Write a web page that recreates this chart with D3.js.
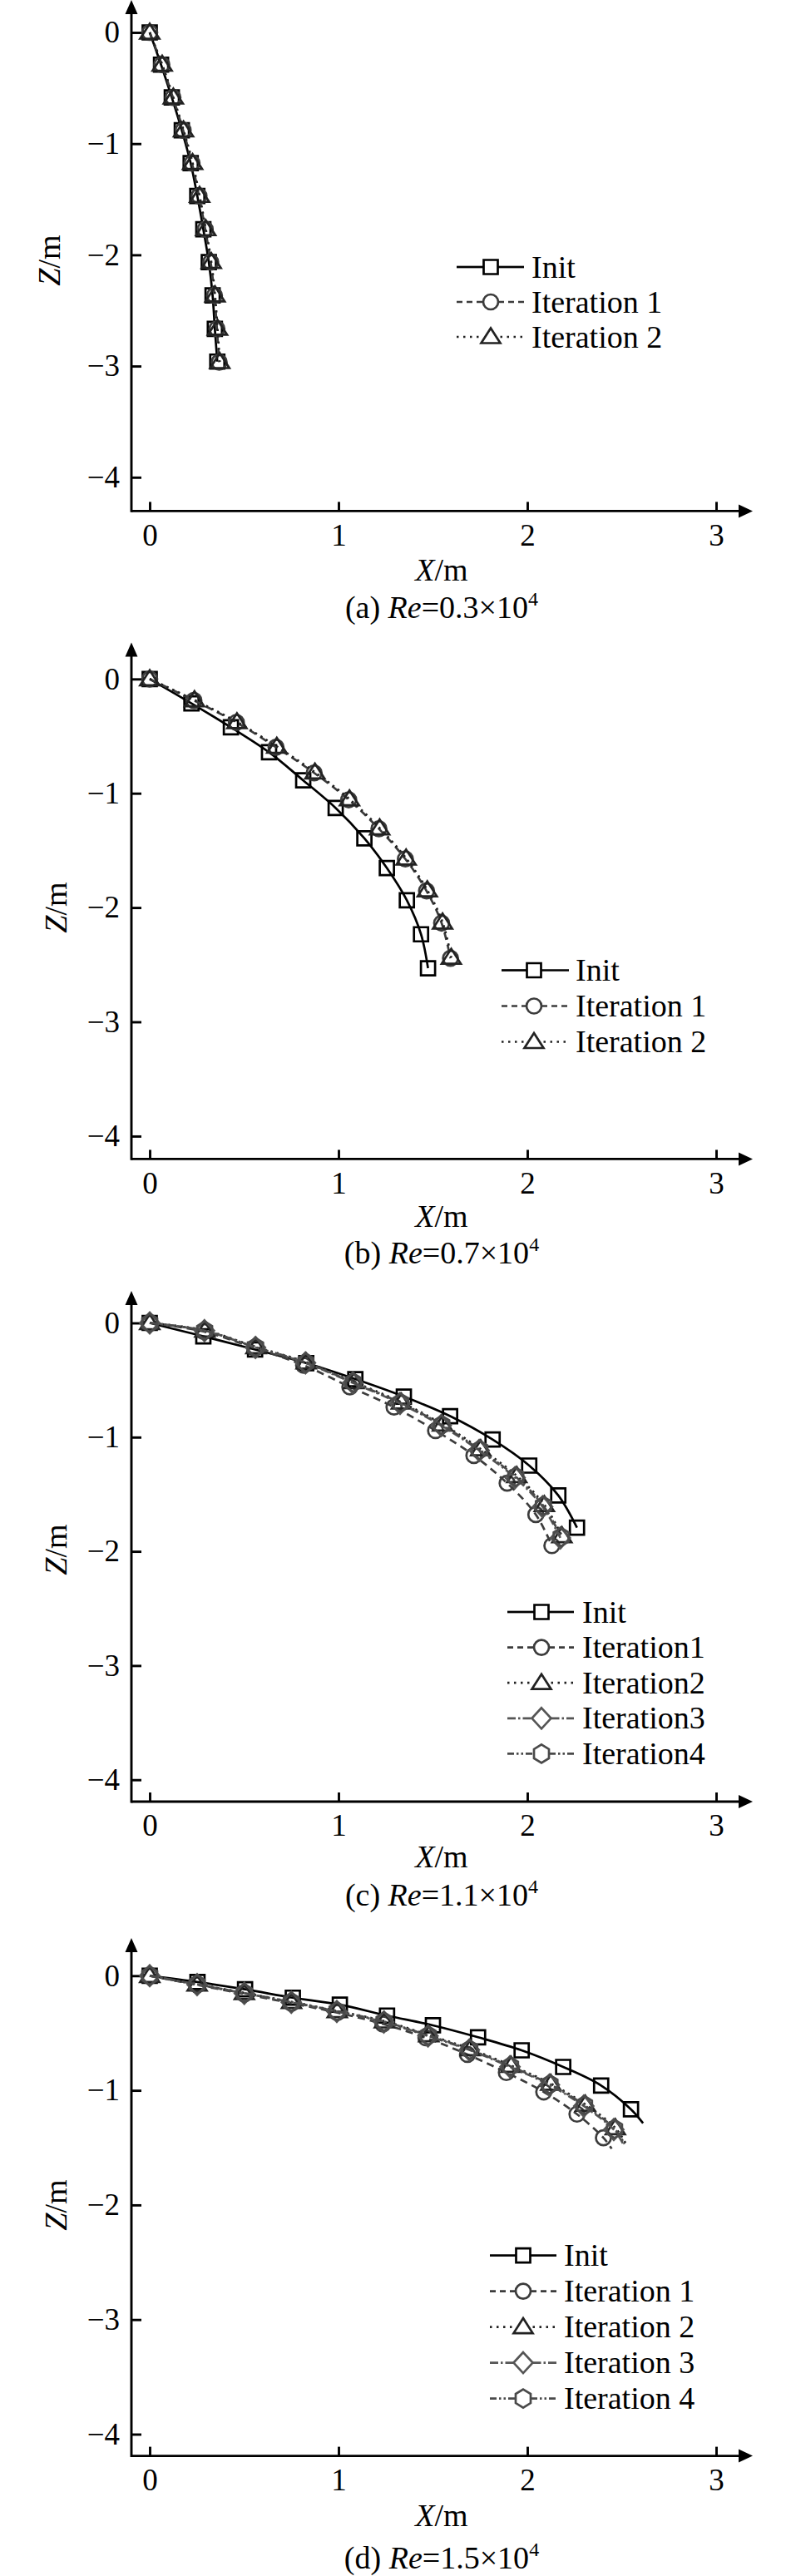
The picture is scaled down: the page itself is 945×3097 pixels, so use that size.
<!DOCTYPE html>
<html>
<head>
<meta charset="utf-8">
<script src="https://cdnjs.cloudflare.com/ajax/libs/d3/7.8.5/d3.min.js"></script>
<style>
  html, body { margin: 0; padding: 0; background: #fff; }
  svg { display: block; }
</style>
</head>
<body>
<svg id="chart"></svg>
<script>
// ---- data (X/m, Z/m) ----
const xTicks = [0, 1, 2, 3];
const zTicks = [0, -1, -2, -3, -4];

// (a) Re = 0.3e4
const aInitX  = [0, 0.060, 0.117, 0.170, 0.217, 0.252, 0.284, 0.313, 0.333, 0.345, 0.358];
const aInitZ  = [0, -0.290, -0.585, -0.880, -1.175, -1.470, -1.770, -2.065, -2.365, -2.665, -2.960];
const aIter1X = [0, 0.064, 0.123, 0.177, 0.224, 0.261, 0.294, 0.323, 0.343, 0.356, 0.368];
const aIter1Z = [0, -0.290, -0.585, -0.880, -1.175, -1.470, -1.770, -2.065, -2.365, -2.665, -2.965];
const aIter2X = [0, 0.066, 0.125, 0.179, 0.227, 0.264, 0.297, 0.326, 0.346, 0.359, 0.371];
const aIter2Z = [0, -0.288, -0.583, -0.878, -1.172, -1.468, -1.767, -2.062, -2.362, -2.662, -2.962];

// (b) Re = 0.7e4
const bInitX  = [0, 0.221, 0.430, 0.632, 0.813, 0.985, 1.137, 1.256, 1.362, 1.437, 1.474];
const bInitZ  = [0, -0.213, -0.423, -0.641, -0.887, -1.129, -1.394, -1.654, -1.937, -2.234, -2.531];
const bIter1X = [0, 0.234, 0.459, 0.669, 0.871, 1.054, 1.214, 1.354, 1.466, 1.546, 1.593];
const bIter1Z = [0, -0.188, -0.380, -0.597, -0.822, -1.057, -1.311, -1.575, -1.854, -2.136, -2.444];
const bIter2X = [0, 0.237, 0.462, 0.673, 0.875, 1.058, 1.218, 1.358, 1.470, 1.551, 1.597];
const bIter2Z = [0, -0.184, -0.376, -0.591, -0.816, -1.051, -1.305, -1.569, -1.847, -2.129, -2.437];

// (c) Re = 1.1e4
const cInitX  = [0, 0.284, 0.558, 0.829, 1.089, 1.346, 1.591, 1.816, 2.010, 2.164, 2.263];
const cInitZ  = [0, -0.117, -0.233, -0.352, -0.492, -0.645, -0.816, -1.021, -1.249, -1.510, -1.792];
const cIter1X = [0, 0.285, 0.555, 0.815, 1.060, 1.294, 1.514, 1.717, 1.893, 2.045, 2.130];
const cIter1Z = [0, -0.075, -0.220, -0.370, -0.560, -0.737, -0.943, -1.161, -1.403, -1.678, -1.950];
const cIter2X = [0, 0.292, 0.563, 0.829, 1.081, 1.333, 1.551, 1.753, 1.944, 2.090, 2.183];
const cIter2Z = [0, -0.065, -0.210, -0.344, -0.517, -0.695, -0.887, -1.104, -1.339, -1.593, -1.865];
const cIter3X = [0, 0.290, 0.560, 0.825, 1.076, 1.326, 1.544, 1.745, 1.935, 2.081, 2.175];
const cIter3Z = [0, -0.068, -0.215, -0.350, -0.525, -0.705, -0.898, -1.117, -1.354, -1.609, -1.882];
const cIter4X = [0, 0.291, 0.561, 0.827, 1.078, 1.329, 1.547, 1.748, 1.939, 2.085, 2.179];
const cIter4Z = [0, -0.067, -0.213, -0.347, -0.521, -0.700, -0.893, -1.111, -1.347, -1.601, -1.874];

// (d) Re = 1.5e4  (last value of each line has no marker)
const dInitX  = [0, 0.253, 0.505, 0.758, 1.007, 1.257, 1.500, 1.739, 1.970, 2.190, 2.391, 2.549, 2.613];
const dInitZ  = [0, -0.055, -0.119, -0.192, -0.253, -0.348, -0.433, -0.537, -0.651, -0.796, -0.958, -1.166, -1.287];
const dIter1X = [0, 0.251, 0.501, 0.751, 0.993, 1.235, 1.463, 1.683, 1.889, 2.087, 2.263, 2.403, 2.447];
const dIter1Z = [0, -0.080, -0.160, -0.240, -0.322, -0.421, -0.542, -0.687, -0.845, -1.014, -1.208, -1.414, -1.509];
const dIter2X = [0, 0.251, 0.501, 0.751, 0.993, 1.243, 1.478, 1.698, 1.914, 2.124, 2.307, 2.466, 2.520];
const dIter2Z = [0, -0.075, -0.150, -0.228, -0.307, -0.397, -0.518, -0.639, -0.784, -0.941, -1.123, -1.328, -1.460];
const dIter3X = [0, 0.251, 0.501, 0.750, 0.991, 1.240, 1.474, 1.693, 1.908, 2.117, 2.299, 2.458, 2.510];
const dIter3Z = [0, -0.077, -0.153, -0.232, -0.312, -0.404, -0.526, -0.648, -0.795, -0.953, -1.137, -1.343, -1.475];
const dIter4X = [0, 0.251, 0.501, 0.750, 0.992, 1.241, 1.476, 1.695, 1.911, 2.120, 2.303, 2.462, 2.515];
const dIter4Z = [0, -0.076, -0.152, -0.230, -0.310, -0.400, -0.522, -0.644, -0.790, -0.947, -1.130, -1.336, -1.468];

const labels3 = ['Init', 'Iteration 1', 'Iteration 2'];
const labelsC = ['Init', 'Iteration1', 'Iteration2', 'Iteration3', 'Iteration4'];
const labelsD = ['Init', 'Iteration 1', 'Iteration 2', 'Iteration 3', 'Iteration 4'];
const captions = [
    { tag: '(a) ', re: '0.3' },
    { tag: '(b) ', re: '0.7' },
    { tag: '(c) ', re: '1.1' },
    { tag: '(d) ', re: '1.5' }
];

// ---- styles ----
const FONT = "'Liberation Serif','Times New Roman','DejaVu Serif',serif";
const styles = [
    { color: '#000000', dash: null,              marker: 'square'   },
    { color: '#3c3c3c', dash: '9,6',             marker: 'circle'   },
    { color: '#222222', dash: '2.5,5',           marker: 'triangle' },
    { color: '#555555', dash: '10,3.5,2.5,3.5',  marker: 'diamond'  },
    { color: '#4a4a4a', dash: '9,3,2.5,3,2.5,3', marker: 'hexagon'  }
];
const legendDash = [null, '7,5', '2.5,5.5', '10,3,2.5,3', '8,3,2.5,3,2.5,3'];

function markerPath(type) {
    if (type === 'square') return 'M-8.5,-8.5H8.5V8.5H-8.5Z';
    if (type === 'circle') return d3.symbol(d3.symbolCircle, Math.PI * 81)();
    if (type === 'triangle') return 'M0,-10.5L11.5,7.5H-11.5Z';
    if (type === 'diamond') return 'M0,-12.5L11.5,0L0,12.5L-11.5,0Z';
    // hexagon, pointy top
    return 'M0,-11L9,-5.5V5.5L0,11L-9,5.5V-5.5Z';
}
const markerHalf = { square: 9, circle: 9, triangle: 11.5, diamond: 11.5, hexagon: 9 };

// ---- panel layout ----
const panels = [
    { tip: 0,      y0: 39,     unit: 133.7, axis: 614.4,  xlab: 686,    cap: 731,    zlx: 72, zly: 313,
      legY: 321,    legStep: 42,   legX: [549, 590, 630, 639], labels: labels3, marked: 0,
      series: [[aInitX, aInitZ], [aIter1X, aIter1Z], [aIter2X, aIter2Z]] },
    { tip: 772.5,  y0: 816.3,  unit: 137.4, axis: 1393.4, xlab: 1462.5, cap: 1507,   zlx: 80, zly: 1091,
      legY: 1166.5, legStep: 43,   legX: [603, 642, 684, 692], labels: labels3, marked: 0,
      series: [[bInitX, bInitZ], [bIter1X, bIter1Z], [bIter2X, bIter2Z]] },
    { tip: 1552,   y0: 1590.5, unit: 137.3, axis: 2166,   xlab: 2232.5, cap: 2279,   zlx: 80, zly: 1863,
      legY: 1938,   legStep: 42.6, legX: [610, 651, 690, 700], labels: labelsC, marked: 0,
      series: [[cInitX, cInitZ], [cIter1X, cIter1Z], [cIter2X, cIter2Z], [cIter3X, cIter3Z], [cIter4X, cIter4Z]] },
    { tip: 2330,   y0: 2375.3, unit: 137.8, axis: 2952.6, xlab: 3025.4, cap: 3075.6, zlx: 80, zly: 2651,
      legY: 2711.6, legStep: 43,   legX: [589, 629, 669, 678], labels: labelsD, marked: 1,
      series: [[dInitX, dInitZ], [dIter1X, dIter1Z], [dIter2X, dIter2Z], [dIter3X, dIter3Z], [dIter4X, dIter4Z]] }
];

const W = 945, H = 3097;
const svg = d3.select('#chart').attr('width', W).attr('height', H)
    .attr('viewBox', `0 0 ${W} ${H}`);
svg.append('rect').attr('width', W).attr('height', H).attr('fill', '#fff');

const axisLeftX = 158, axisRightX = 905;
const xScale = d3.scaleLinear().domain([0, 3]).range([180, 861]);
const SW = 2.7;   // stroke width of curves and markers

panels.forEach((p, pi) => {
    const yScale = d3.scaleLinear().domain([0, -4]).range([p.y0, p.y0 + 4 * p.unit]);
    const g = svg.append('g');

    // x ticks (inward) + labels
    const xAxis = d3.axisBottom(xScale).tickValues(xTicks)
        .tickSizeInner(-11).tickSizeOuter(0).tickPadding(15).tickFormat(d3.format('d'));
    const gx = g.append('g').attr('transform', `translate(0,${p.axis})`).call(xAxis);
    gx.select('.domain').remove();
    gx.selectAll('line').attr('stroke', '#000').attr('stroke-width', 2.9);
    gx.selectAll('text').attr('font-family', FONT).attr('font-size', 37).attr('fill', '#000');

    // y ticks (inward) + labels
    const yAxis = d3.axisLeft(yScale).tickValues(zTicks)
        .tickSizeInner(-12).tickSizeOuter(0).tickPadding(14).tickFormat(d3.format('d'));
    const gy = g.append('g').attr('transform', `translate(${axisLeftX},0)`).call(yAxis);
    gy.select('.domain').remove();
    gy.selectAll('line').attr('stroke', '#000').attr('stroke-width', 2.9);
    gy.selectAll('text').attr('font-family', FONT).attr('font-size', 37).attr('fill', '#000');

    // axis lines with arrows
    g.append('line').attr('x1', axisLeftX).attr('x2', axisRightX - 14)
        .attr('y1', p.axis).attr('y2', p.axis).attr('stroke', '#000').attr('stroke-width', 2.9);
    g.append('line').attr('x1', axisLeftX).attr('x2', axisLeftX)
        .attr('y1', p.axis + 1.45).attr('y2', p.tip + 14).attr('stroke', '#000').attr('stroke-width', 2.9);
    g.append('path').attr('d', `M${axisRightX},${p.axis}L${axisRightX - 17},${p.axis - 8}L${axisRightX - 17},${p.axis + 8}Z`)
        .attr('fill', '#000');
    g.append('path').attr('d', `M${axisLeftX},${p.tip}L${axisLeftX - 7.5},${p.tip + 17}L${axisLeftX + 7.5},${p.tip + 17}Z`)
        .attr('fill', '#000');

    // series
    const line = d3.line()
        .x(d => xScale(d[0]))
        .y(d => yScale(d[1]))
        .curve(d3.curveCatmullRom.alpha(0.5));

    p.series.forEach((s, si) => {
        const st = styles[si];
        const pts = s[0].map((x, i) => [x, s[1][i]]);
        g.append('path')
            .attr('d', line(pts))
            .attr('fill', 'none')
            .attr('stroke', st.color)
            .attr('stroke-width', SW)
            .attr('stroke-dasharray', st.dash);
        const marks = p.marked ? pts.slice(0, pts.length - p.marked) : pts;
        g.selectAll(null).data(marks).enter().append('path')
            .attr('transform', d => `translate(${xScale(d[0])},${yScale(d[1])})`)
            .attr('d', markerPath(st.marker))
            .attr('fill', 'none')
            .attr('stroke', st.color)
            .attr('stroke-width', SW);
    });

    // legend
    const [lx0, lmx, lx1, ltx] = p.legX;
    p.labels.forEach((lab, li) => {
        const st = styles[li];
        const y = p.legY + li * p.legStep;
        const half = markerHalf[st.marker];
        [[lx0, lmx - half], [lmx + half, lx1]].forEach(seg => {
            g.append('line').attr('x1', seg[0]).attr('x2', seg[1]).attr('y1', y).attr('y2', y)
                .attr('stroke', st.color).attr('stroke-width', SW)
                .attr('stroke-dasharray', legendDash[li]);
        });
        g.append('path').attr('transform', `translate(${lmx},${y})`)
            .attr('d', markerPath(st.marker))
            .attr('fill', 'none').attr('stroke', st.color).attr('stroke-width', SW);
        g.append('text').attr('x', ltx).attr('y', y + 12.5)
            .attr('font-family', FONT).attr('font-size', 38).attr('fill', '#000')
            .text(lab);
    });

    // axis titles
    const xl = g.append('text').attr('x', 531).attr('y', p.xlab + 12)
        .attr('text-anchor', 'middle').attr('font-family', FONT).attr('font-size', 38);
    xl.append('tspan').attr('font-style', 'italic').text('X');
    xl.append('tspan').text('/m');

    const zl = g.append('text')
        .attr('transform', `translate(${p.zlx},${p.zly}) rotate(-90)`)
        .attr('text-anchor', 'middle').attr('font-family', FONT).attr('font-size', 38);
    zl.append('tspan').attr('font-style', 'italic').text('Z');
    zl.append('tspan').text('/m');

    // caption
    const c = captions[pi];
    const ct = g.append('text').attr('x', 531).attr('y', p.cap + 12)
        .attr('text-anchor', 'middle').attr('font-family', FONT).attr('font-size', 38);
    ct.append('tspan').text(c.tag);
    ct.append('tspan').attr('font-style', 'italic').text('Re');
    ct.append('tspan').text('=' + c.re + '×10');
    ct.append('tspan').attr('font-size', 24).attr('dy', -15).text('4');
});
</script>
</body>
</html>
